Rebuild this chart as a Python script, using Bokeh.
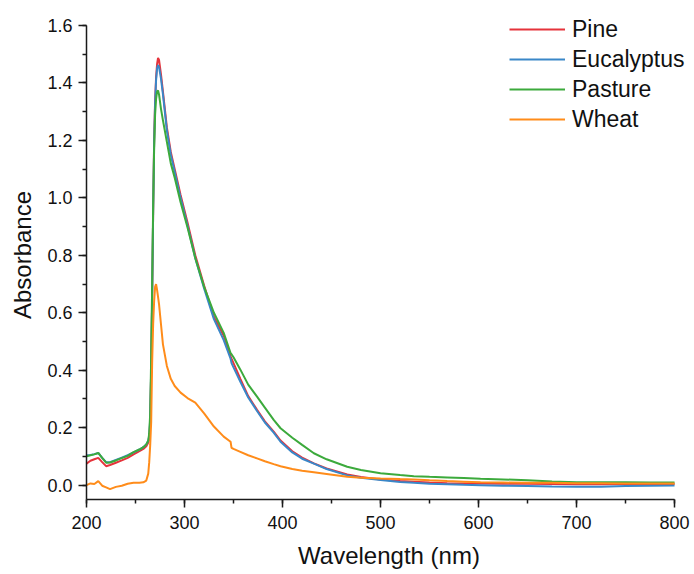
from bokeh.plotting import figure
from bokeh.models import Legend, LegendItem, SingleIntervalTicker, NumeralTickFormatter, Range1d
from bokeh.embed import file_html
from bokeh.resources import INLINE

wavelength = [200, 204, 208, 212, 216, 220, 224, 230, 236, 242, 248, 254, 258, 261, 263, 264,
              265, 266, 267, 268, 269, 270, 271, 272, 273, 274, 276, 278, 282, 286, 290, 296,
              303, 311, 320, 330, 340, 347, 348, 350, 357, 365, 374, 382, 391, 398, 410, 420,
              432, 445, 466, 480, 500, 520, 534, 550, 568, 585, 602, 625, 650, 675, 700, 725,
              750, 775, 800]

pine = [0.075, 0.085, 0.090, 0.095, 0.080, 0.066, 0.070, 0.078, 0.086, 0.095, 0.107, 0.118, 0.126, 0.135, 0.148, 0.160,
        0.22, 0.40, 0.65, 0.95, 1.20, 1.34, 1.42, 1.465, 1.487, 1.48, 1.43, 1.37, 1.245, 1.16, 1.10, 1.01,
        0.915, 0.80, 0.695, 0.585, 0.52, 0.448, 0.44, 0.425, 0.37, 0.31, 0.262, 0.222, 0.186, 0.155, 0.118, 0.096,
        0.076, 0.058, 0.037, 0.028, 0.020, 0.014, 0.012, 0.009, 0.007, 0.006, 0.006, 0.005, 0.005, 0.004, 0.003, 0.003,
        0.004, 0.004, 0.004]

eucalyptus = [0.104, 0.105, 0.108, 0.112, 0.095, 0.080, 0.080, 0.088, 0.096, 0.104, 0.114, 0.124, 0.132, 0.142, 0.155, 0.170,
              0.23, 0.41, 0.66, 0.95, 1.19, 1.33, 1.41, 1.45, 1.462, 1.455, 1.415, 1.36, 1.235, 1.15, 1.09, 1.00,
              0.905, 0.79, 0.685, 0.578, 0.505, 0.44, 0.425, 0.41, 0.36, 0.305, 0.258, 0.218, 0.183, 0.151, 0.114, 0.092,
              0.075, 0.056, 0.034, 0.026, 0.018, 0.011, 0.008, 0.005, 0.003, 0.001, 0.000, -0.002, -0.003, -0.005, -0.006, -0.006,
              -0.003, -0.002, -0.001]

pasture = [0.100, 0.104, 0.107, 0.112, 0.095, 0.078, 0.079, 0.086, 0.094, 0.102, 0.115, 0.124, 0.132, 0.142, 0.155, 0.180,
           0.25, 0.45, 0.70, 0.97, 1.17, 1.29, 1.345, 1.37, 1.374, 1.36, 1.31, 1.27, 1.195, 1.12, 1.07, 0.985,
           0.898, 0.79, 0.69, 0.60, 0.53, 0.46, 0.455, 0.445, 0.402, 0.35, 0.308, 0.27, 0.227, 0.198, 0.165, 0.14,
           0.111, 0.090, 0.064, 0.053, 0.041, 0.035, 0.031, 0.029, 0.027, 0.025, 0.022, 0.020, 0.017, 0.013, 0.010, 0.010,
           0.010, 0.0095, 0.0095]

wheat = [0.000, 0.006, 0.004, 0.014, -0.002, -0.008, -0.014, -0.006, -0.002, 0.005, 0.008, 0.008, 0.010, 0.016, 0.040, 0.080,
         0.14, 0.22, 0.43, 0.56, 0.64, 0.69, 0.70, 0.68, 0.655, 0.63, 0.56, 0.49, 0.415, 0.37, 0.345, 0.322,
         0.303, 0.287, 0.25, 0.204, 0.169, 0.151, 0.13, 0.126, 0.116, 0.104, 0.093, 0.083, 0.073, 0.066, 0.056, 0.050,
         0.045, 0.039, 0.029, 0.026, 0.023, 0.021, 0.020, 0.017, 0.014, 0.012, 0.010, 0.009, 0.008, 0.008, 0.007, 0.007,
         0.006, 0.006, 0.006]

series_names = ["Pine", "Eucalyptus", "Pasture", "Wheat"]
series_values = [pine, eucalyptus, pasture, wheat]
series_colors = ["#E5333B", "#3A87C8", "#3CAA3C", "#FF8C1A"]

FONT = "Liberation Sans"

# frame is a little larger than the axes so the legend (which overhangs the axes) is not clipped
p = figure(width=694, height=574, output_backend="svg", toolbar_location=None,
           x_range=Range1d(200, 817.3), y_range=Range1d(-0.05, 1.6522),
           min_border_left=86, min_border_right=3, min_border_top=10, min_border_bottom=75)
p.outline_line_color = None
p.xgrid.visible = False
p.ygrid.visible = False
p.background_fill_color = "white"
p.border_fill_color = "white"

items = []
for name, vals, col in zip(series_names, series_values, series_colors):
    r = p.line(wavelength, vals, line_color=col, line_width=2)
    items.append(LegendItem(label=name, renderers=[r]))

p.xaxis.ticker = SingleIntervalTicker(interval=100, num_minor_ticks=2)
p.yaxis.ticker = SingleIntervalTicker(interval=0.2, num_minor_ticks=2)
p.yaxis.formatter = NumeralTickFormatter(format="0.0")
p.xaxis.bounds = (200, 800)
p.yaxis.bounds = (-0.05, 1.6)

for ax in (p.xaxis[0], p.yaxis[0]):
    ax.axis_line_color = "#1a1a1a"
    ax.axis_line_width = 1.5
    ax.major_tick_line_color = "#1a1a1a"
    ax.minor_tick_line_color = "#1a1a1a"
    ax.major_tick_line_width = 1.5
    ax.minor_tick_line_width = 1.5
    ax.major_tick_in = 0
    ax.major_tick_out = 8
    ax.minor_tick_in = 0
    ax.minor_tick_out = 4
    ax.major_label_text_font = FONT
    ax.major_label_text_font_size = "18px"
    ax.major_label_text_color = "#111111"
    ax.axis_label_text_font = FONT
    ax.axis_label_text_font_size = "24px"
    ax.axis_label_text_font_style = "normal"
    ax.axis_label_text_color = "#111111"

p.xaxis.axis_label = "Wavelength (nm)"
p.yaxis.axis_label = "Absorbance"
p.xaxis.major_label_standoff = 8
p.yaxis.major_label_standoff = 6
p.xaxis.axis_label_standoff = 10
p.yaxis.axis_label_standoff = 8

legend = Legend(items=items, location=(423, 365), orientation="vertical",
                glyph_width=56, glyph_height=30, label_height=30, label_standoff=7,
                spacing=0, padding=0, margin=0,
                border_line_color=None, background_fill_alpha=0,
                label_text_font=FONT, label_text_font_size="23px", label_text_color="#111111")
p.add_layout(legend, "center")

open("out.html", "w").write(file_html(p, INLINE))
